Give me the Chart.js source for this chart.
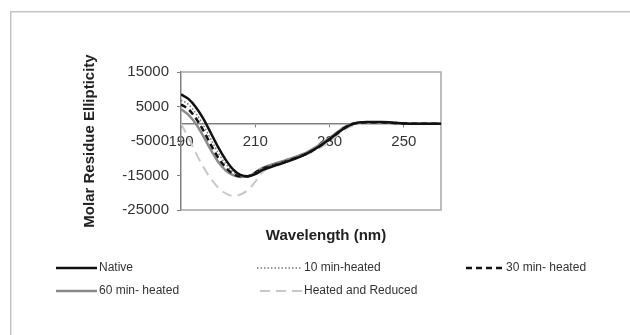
<!DOCTYPE html>
<html>
<head>
<meta charset="utf-8">
<script src="https://cdn.jsdelivr.net/npm/chart.js@4/dist/chart.umd.min.js"></script>
<style>
    html, body { margin: 0; padding: 0; background: #fff; overflow: hidden; }
    #wrap { width: 630px; height: 335px; }
    canvas { display: block; }
</style>
</head>
<body>
<div id="wrap"><canvas id="cd-chart" width="630" height="335"></canvas></div>
<script>
// wavelength (nm), every 2 nm
const wavelengths = [190, 192, 194, 196, 198, 200, 202, 204, 206, 208, 210, 212, 214, 216, 218, 220, 222, 224,
    226, 228, 230, 232, 234, 236, 238, 240, 242, 244, 246, 248, 250, 252, 254, 256, 258, 260];

const nativeVals = [8500, 7200, 4800, 1500, -2600, -6800, -10400, -13200, -14800, -15200, -14600, -13400, -12600, -11900,
    -11200, -10400, -9600, -8600, -7400, -6000, -4500, -2800, -1300, -200, 400, 500, 500, 500, 400, 200, 100, 0, 0, 0, 0, 0];
const heated10 = [6800, 5600, 3000, -400, -4400, -8400, -11600, -13900, -15000, -15200, -14300, -13100, -12300, -11600,
    -10900, -10100, -9300, -8300, -7100, -5700, -4200, -2600, -1100, -100, 400, 500, 500, 500, 400, 200, 100, 0, 0, 0, 0, 0];
const heated30 = [5600, 4200, 1600, -1900, -6000, -9800, -12600, -14500, -15200, -15200, -14200, -13000, -12300, -11700,
    -11000, -10300, -9500, -8600, -7400, -6000, -4500, -2800, -1200, -100, 300, 400, 400, 400, 300, 200, 100, 0, 0, 0, 0, 0];
const heated60 = [4200, 2600, 0, -3600, -7500, -11000, -13500, -14900, -15400, -15300, -14100, -12800, -12000, -11300,
    -10600, -9900, -9100, -8200, -7000, -5600, -4100, -2500, -1000, 0, 300, 400, 400, 400, 300, 200, 100, 0, 0, 0, 0, 0];
const heatedReduced = [0, -4000, -8500, -12500, -15900, -18500, -20200, -20900, -20500, -19200, -16800, -14000, -12600, -11800,
    -11000, -10300, -9600, -8800, -7800, -6600, -5200, -3500, -1800, -600, 0, 200, 300, 300, 200, 100, 0, 0, 0, 0, 0, 0];

const xTicks = [190, 210, 230, 250];
const yTicks = [-25000, -15000, -5000, 5000, 15000];

const FONT = '"Liberation Sans", Arial, sans-serif';

function pts(vals) {
    return wavelengths.map((w, i) => ({ x: w, y: vals[i] }));
}

// legend slots: [lineStart, lineEnd, rowY]
const legendSlots = [
    [56, 97, 268], [257, 302, 268], [466, 504, 268],
    [56, 97, 291], [260, 302, 291]
];

const pagePlugin = {
    id: 'page',
    beforeDraw(chart) {
        const c = chart.ctx;
        c.save();
        c.fillStyle = '#fff';
        c.fillRect(0, 0, chart.width, chart.height);
        // light frame open to the right and bottom
        c.fillStyle = '#c4c4c4';
        c.fillRect(10, 11, 1.5, chart.height - 11);
        c.fillRect(10, 11, chart.width - 10, 1.5);
        c.restore();
    },
    beforeDatasetsDraw(chart) {
        const a = chart.chartArea;
        const c = chart.ctx;
        c.save();
        c.strokeStyle = '#a8a8a8';
        c.lineWidth = 1.5;
        c.beginPath();
        c.moveTo(a.left, a.top);
        c.lineTo(a.right, a.top);
        c.lineTo(a.right, a.bottom);
        c.lineTo(a.left, a.bottom);
        c.stroke();
        c.restore();
    },
    afterDraw(chart) {
        const c = chart.ctx;
        c.save();
        c.fillStyle = '#222';
        c.font = 'bold 15px ' + FONT;
        c.textAlign = 'center';
        c.textBaseline = 'middle';
        c.fillText('Wavelength (nm)', 326, 236);

        c.font = '12px ' + FONT;
        c.textAlign = 'left';
        chart.data.datasets.forEach((ds, i) => {
            const s = legendSlots[i];
            c.strokeStyle = ds.borderColor;
            c.lineWidth = ds.borderWidth;
            c.setLineDash(ds.borderDash || []);
            c.beginPath();
            c.moveTo(s[0], s[2]);
            c.lineTo(s[1], s[2]);
            c.stroke();
            c.setLineDash([]);
            c.fillStyle = '#333';
            c.fillText(ds.label, s[1] + 2, s[2]);
        });
        c.restore();
    }
};

const ctx = document.getElementById('cd-chart').getContext('2d');
const chart = new Chart(ctx, {
    type: 'line',
    data: {
        datasets: [{
            label: 'Native',
            data: pts(nativeVals),
            borderColor: '#111',
            borderWidth: 2.5
        }, {
            label: '10 min-heated',
            data: pts(heated10),
            borderColor: '#777',
            borderWidth: 1.5,
            borderDash: [1.5, 2]
        }, {
            label: '30 min- heated',
            data: pts(heated30),
            borderColor: '#111',
            borderWidth: 2.5,
            borderDash: [6, 4]
        }, {
            label: '60 min- heated',
            data: pts(heated60),
            borderColor: '#8a8a8a',
            borderWidth: 2.5
        }, {
            label: 'Heated and Reduced',
            data: pts(heatedReduced),
            borderColor: '#c8c8c8',
            borderWidth: 2,
            borderDash: [10, 6]
        }]
    },
    options: {
        responsive: false,
        animation: false,
        devicePixelRatio: 1,
        elements: {
            point: { radius: 0 },
            line: { cubicInterpolationMode: 'monotone', fill: false }
        },
        layout: { padding: { left: 77, top: 72, right: 189, bottom: 125 } },
        plugins: {
            legend: { display: false },
            tooltip: { enabled: false }
        },
        scales: {
            x: {
                type: 'linear',
                position: { y: 0 },
                min: 190,
                max: 260,
                afterBuildTicks: (s) => { s.ticks = xTicks.map(v => ({ value: v })); },
                grid: { drawOnChartArea: false, tickLength: 3, color: '#808080' },
                border: { color: '#808080', width: 1.5 },
                ticks: {
                    color: '#333', padding: 6, maxRotation: 0,
                    font: { family: FONT, size: 15 },
                    callback: (v) => String(v)
                }
            },
            y: {
                min: -25000,
                max: 15000,
                afterBuildTicks: (s) => { s.ticks = yTicks.map(v => ({ value: v })); },
                afterFit: (s) => { s.width = 104; },
                grid: { drawOnChartArea: false, tickLength: 4, color: '#808080' },
                border: { color: '#808080', width: 1.5 },
                ticks: {
                    color: '#333', padding: 8,
                    font: { family: FONT, size: 15 },
                    callback: (v) => String(v)
                },
                title: {
                    display: true,
                    text: 'Molar Residue Ellipticity',
                    color: '#222',
                    font: { family: FONT, size: 15, weight: 'bold' }
                }
            }
        }
    },
    plugins: [pagePlugin]
});
</script>
</body>
</html>
